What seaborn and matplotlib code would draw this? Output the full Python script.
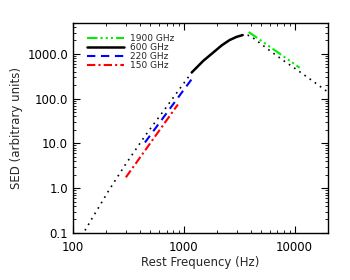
import matplotlib
matplotlib.use("Agg")
import matplotlib.pyplot as plt
import matplotlib.ticker as mticker
import seaborn as sns

# model SED (frequency, value)
model_freq = [120, 150, 211, 300, 446, 500, 700, 884, 1180, 1500, 1825, 2200, 2595,
              3000, 3400, 3800, 4100, 5000, 6200, 8000, 11100, 15000, 20000]
model_sed = [0.086, 0.22, 0.9, 3.5, 14.6, 21.5, 66, 146, 385, 700, 1050, 1550, 2040,
             2400, 2630, 2600, 2400, 1650, 1100, 700, 400, 235, 140]

# observed bands
band_labels = ["1900 GHz", "600 GHz", "220 GHz", "150 GHz"]
f1900 = [3850, 6500, 11100]
s1900 = [3080, 1246, 490]
f600 = [1180, 1500, 1825, 2200, 2595, 3000, 3400]
s600 = [385, 700, 1050, 1550, 2040, 2400, 2630]
f220 = [446, 1204]
s220 = [10.5, 293]
f150 = [300, 884]
s150 = [1.75, 74]

x_ticks = [100, 1000, 10000]
y_ticks = [0.1, 1.0, 10.0, 100.0, 1000.0]

sns.set_style("ticks")
plt.rcParams["font.family"] = ["DejaVu Sans"]

fig = plt.figure(figsize=(3.5, 2.8), dpi=100)
ax = fig.add_axes([0.2086, 0.168, 0.7284, 0.75])

sns.lineplot(x=model_freq, y=model_sed, ax=ax, color="black", linewidth=1.2,
             linestyle=(0, (1, 2.8)), sort=False)
sns.lineplot(x=f1900, y=s1900, ax=ax, color="#00ee00", linewidth=1.5,
             linestyle=(0, (5, 1.5, 1, 1.5, 1, 1.5, 1, 1.5)), sort=False, label=band_labels[0])
sns.lineplot(x=f600, y=s600, ax=ax, color="black", linewidth=1.8,
             linestyle="-", sort=False, label=band_labels[1])
sns.lineplot(x=f220, y=s220, ax=ax, color="#0000ff", linewidth=1.5,
             linestyle=(0, (4, 2.7)), sort=False, label=band_labels[2])
sns.lineplot(x=f150, y=s150, ax=ax, color="#ff0000", linewidth=1.5,
             linestyle=(0, (4, 1.5, 1, 1.5)), sort=False, label=band_labels[3])

ax.set_xscale("log")
ax.set_yscale("log")
ax.set_xlim(100, 20000)
ax.set_ylim(0.1, 4900)

ax.set_xticks(x_ticks)
ax.xaxis.set_major_formatter(mticker.FuncFormatter(lambda v, p: "%d" % v))
ax.set_yticks(y_ticks)
ax.yaxis.set_major_formatter(mticker.FuncFormatter(lambda v, p: "%.1f" % v))
ax.xaxis.set_minor_locator(mticker.LogLocator(base=10, subs=range(2, 10), numticks=20))
ax.yaxis.set_minor_locator(mticker.LogLocator(base=10, subs=range(2, 10), numticks=20))
ax.xaxis.set_minor_formatter(mticker.NullFormatter())
ax.yaxis.set_minor_formatter(mticker.NullFormatter())

ax.tick_params(which="both", direction="in", top=True, right=True, color="black",
               labelsize=8.5, labelcolor="black")
ax.tick_params(which="major", length=5, width=0.8)
ax.tick_params(which="minor", length=2.5, width=0.6)
ax.tick_params(axis="x", pad=6)
for s in ax.spines.values():
    s.set_color("black")
    s.set_linewidth(1.0)

ax.set_xlabel("Rest Frequency (Hz)", fontsize=8.5, labelpad=1)
ax.set_ylabel("SED (arbitrary units)", fontsize=8.5, labelpad=3)

ax.legend(loc="upper left", bbox_to_anchor=(0.055, 0.948), frameon=False,
          fontsize=6.5, handlelength=4.1, handletextpad=0.67, labelspacing=0.0,
          borderpad=0, borderaxespad=0)

fig.savefig("out.png", dpi=100)
